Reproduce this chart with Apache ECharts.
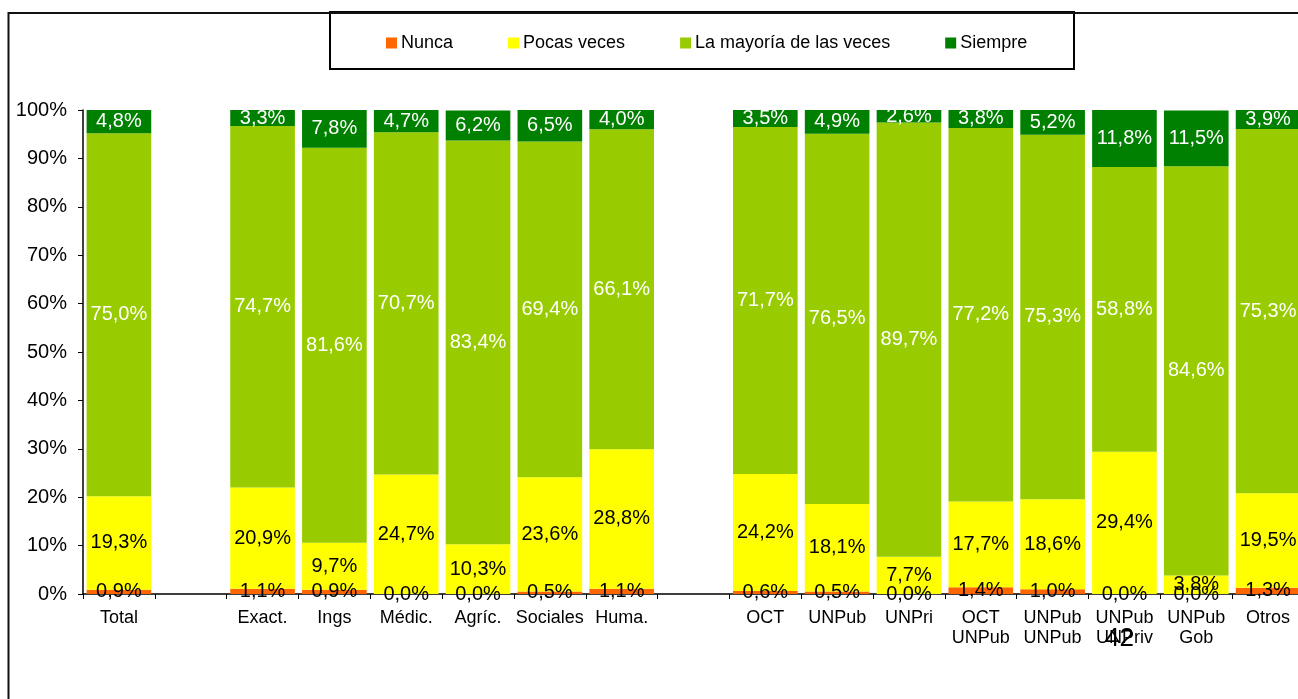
<!DOCTYPE html>
<html>
<head>
<meta charset="utf-8">
<script src="https://cdn.jsdelivr.net/npm/echarts@6/dist/echarts.min.js"></script>
<style>
html,body{margin:0;padding:0;background:#fff;}
#chart{width:1298px;height:699px;}
</style>
</head>
<body>
<div id="chart"></div>
<script>
var categories = ['Total', '', 'Exact.', 'Ings', 'Médic.', 'Agríc.', 'Sociales', 'Huma.', '', 'OCT', 'UNPub', 'UNPri', 'OCT\nUNPub', 'UNPub\nUNPub', 'UNPub\nUNPriv', 'UNPub\nGob', 'Otros'];
var nunca    = [0.9, null, 1.1, 0.9, 0.0, 0.0, 0.5, 1.1, null, 0.6, 0.5, 0.0, 1.4, 1.0, 0.0, 0.0, 1.3];
var pocas    = [19.3, null, 20.9, 9.7, 24.7, 10.3, 23.6, 28.8, null, 24.2, 18.1, 7.7, 17.7, 18.6, 29.4, 3.8, 19.5];
var mayoria  = [75.0, null, 74.7, 81.6, 70.7, 83.4, 69.4, 66.1, null, 71.7, 76.5, 89.7, 77.2, 75.3, 58.8, 84.6, 75.3];
var siempre  = [4.8, null, 3.3, 7.8, 4.7, 6.2, 6.5, 4.0, null, 3.5, 4.9, 2.6, 3.8, 5.2, 11.8, 11.5, 3.9];
var seriesNames = ['Nunca', 'Pocas veces', 'La mayoría de las veces', 'Siempre'];
var yTicks = [0, 10, 20, 30, 40, 50, 60, 70, 80, 90, 100];

var FONT = "'Liberation Sans', Arial, sans-serif";
var colors = ['#FF6600', '#FFFF00', '#99CC00', '#008000'];
var labelColors = ['#000', '#000', '#fff', '#fff'];
var dataSets = [nunca, pocas, mayoria, siempre];

function fmt(p) { return p.value == null ? '' : p.value.toFixed(1).replace('.', ',') + '%'; }

var series = dataSets.map(function (d, i) {
  return {
    name: seriesNames[i],
    type: 'bar',
    stack: 'total',
    data: d,
    barCategoryGap: '10%',
    itemStyle: { color: colors[i] },
    label: {
      show: true,
      position: 'inside',
      formatter: fmt,
      color: labelColors[i],
      fontFamily: FONT,
      fontSize: 20
    },
    emphasis: { disabled: true },
    animation: false
  };
});

var chart = echarts.init(document.getElementById('chart'), null, { renderer: 'canvas' });
chart.setOption({
  animation: false,
  backgroundColor: '#fff',
  legend: {
    data: seriesNames,
    left: 386,
    top: 34,
    padding: 0,
    itemGap: 55,
    itemWidth: 11,
    itemHeight: 11,
    icon: 'rect',
    textStyle: { fontFamily: FONT, fontSize: 18, color: '#000', padding: [0, 0, 0, -1] }
  },
  grid: { left: 83, width: 1221, top: 110, bottom: 105, containLabel: false, outerBoundsMode: 'none' },
  xAxis: {
    type: 'category',
    data: categories,
    axisLine: { lineStyle: { color: '#000', width: 1.5 } },
    axisTick: { show: true, length: 5, lineStyle: { color: '#000' } },
    axisLabel: { interval: 0, margin: 14, fontFamily: FONT, fontSize: 18, color: '#000', lineHeight: 20 }
  },
  yAxis: {
    type: 'value',
    min: 0,
    max: 100,
    interval: 10,
    splitLine: { show: false },
    axisLine: { show: true, lineStyle: { color: '#000', width: 1.5 } },
    axisTick: { show: true, length: 5, lineStyle: { color: '#000' } },
    axisLabel: {
      margin: 16,
      fontFamily: FONT,
      fontSize: 20,
      color: '#000',
      formatter: function (v) { return yTicks.indexOf(v) >= 0 ? v + '%' : ''; }
    }
  },
  graphic: [
    { type: 'polyline', shape: { points: [[8.5, 699], [8.5, 13], [1298, 13]] }, style: { stroke: '#111', lineWidth: 2, fill: null }, silent: true },
    { type: 'rect', shape: { x: 330, y: 12, width: 744, height: 57 }, style: { stroke: '#000', lineWidth: 2, fill: '#fff' }, z: -1, silent: true },
    { type: 'text', left: 1105, top: 626, style: { text: '42', fontFamily: FONT, fontSize: 26, fill: '#000' }, z: 100, silent: true }
  ],
  series: series
});
</script>
</body>
</html>
